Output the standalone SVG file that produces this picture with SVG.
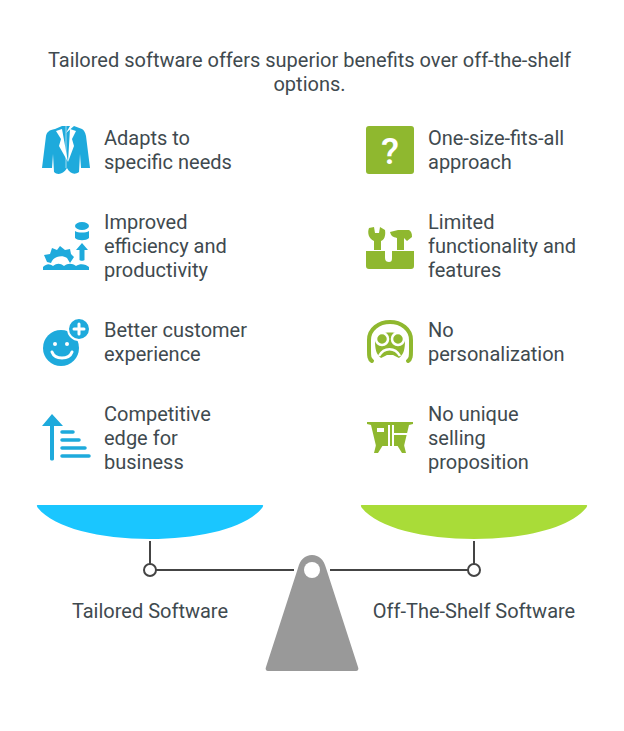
<svg xmlns="http://www.w3.org/2000/svg" width="624" height="731" viewBox="0 0 624 731">
<style>
text{font-family:Roboto,"Liberation Sans",sans-serif;font-size:20px;fill:#3f4a4f}
.b{fill:#1eaadc}.g{fill:#8fb82f}.w{fill:#fff}
.sb{stroke:#1eaadc;fill:none;stroke-linecap:round}
.sg{stroke:#8fb82f;fill:none;stroke-linecap:round}
.c{stroke:#444;stroke-width:2;fill:none}
</style>
<rect width="624" height="731" fill="#fff"/>
<g id="title"><text x="309.5" y="67" text-anchor="middle">Tailored software offers superior benefits over off-the-shelf</text><text x="309.5" y="91" text-anchor="middle">options.</text></g>

<g id="n1"><path class="b" d="M55 129L62 126H70L66 133L74 126L82 129C84 130 85 132 86 136L90 168L81 168L80 154L79 172C75 175 70 174 67 168C63 175 57 175 54 172L53 154L52 168L42 168L46 136C47 132 49 130 55 129Z"/><path class="w" d="M56 131L62 129L68 162L59 146L61 139ZM76 131L70 129L68 162L74 146L72 139Z"/><path d="M66 126V168" stroke="#fff" stroke-width="1" opacity=".6"/><text x="104" y="145">Adapts to</text><text x="104" y="169">specific needs</text></g>

<g id="n2"><ellipse class="b" cx="82" cy="226" rx="7" ry="4"/><path class="b" d="M75 231C78 233 86 233 89 231V238C86 241 78 241 75 238Z"/><path class="b" d="M82 243L88 250H84.5V260C84 261 80 261 79.5 260V250H76Z"/><path class="b" d="M44 255L50 254L52 248L57 250L60 246L65 250L70 249L71 254L74 257L70 263L67 258C64 256 60 256 57 257C54 258 52 260 51 263L47 262Z"/><path class="b" d="M43 267C47 263 50 264 53 266C57 263 60 263 64 266C68 263 72 263 76 266C80 263 86 264 89 267V270H43Z"/><text x="104" y="229">Improved</text><text x="104" y="253">efficiency and</text><text x="104" y="277">productivity</text></g>

<g id="n3"><circle class="b" cx="61" cy="348" r="18"/><circle class="b" cx="79" cy="329" r="11" stroke="#fff" stroke-width="2"/><path d="M79 324V334M74 329H84" stroke="#fff" stroke-width="3" stroke-linecap="round"/><circle class="w" cx="55" cy="344" r="2"/><circle class="w" cx="67" cy="344" r="2"/><path d="M52 352C55 360 69 360 72 352" stroke="#fff" stroke-width="3" fill="none" stroke-linecap="round"/><text x="104" y="337">Better customer</text><text x="104" y="361">experience</text></g>

<g id="n4"><path class="b" d="M52 414L63 426H54V459C54 461 50 461 50 459V426H42Z"/><path class="sb" stroke-width="3.5" d="M62 432H73M62 440H79M62 448H85M62 456H89"/><text x="104" y="421">Competitive</text><text x="104" y="445">edge for</text><text x="104" y="469">business</text></g>

<g id="n5"><rect class="g" x="366" y="126" width="48" height="48" rx="3"/><text x="390" y="164" text-anchor="middle" style="font-size:37px;font-weight:500;fill:#fff">?</text><text x="428" y="145">One-size-fits-all</text><text x="428" y="169">approach</text></g>

<g id="n6"><path class="g" d="M369 228L374 227L375 233L379 233L380 227L385 230C386 236 384 240 381 241V250H374V241C369 239 367 233 369 228Z"/><path class="g" d="M390 232L398 230H409C411 231 412 233 412 237L407 241L404 238V250H397V238C393 237 391 236 390 232Z"/><path class="g" d="M366 251H385V258C385 261 387 262 389 262C391 262 392 261 392 258V251H414V266C414 268 413 269 411 269H369C367 269 366 268 366 266Z"/><text x="428" y="229">Limited</text><text x="428" y="253">functionality and</text><text x="428" y="277">features</text></g>

<g id="n7"><path class="sg" stroke-width="4" d="M372 361C369 359 369 356 369 350V340C369 329 379 322 390 322C401 322 411 329 411 340V350C411 356 411 359 408 361"/><path class="g" d="M375 340C375 330 405 330 405 340C405 349 404 354 399 358L393 355H387L381 358C376 354 375 349 375 340Z"/><circle cx="382" cy="339" r="6" fill="#8fb82f" stroke="#fff" stroke-width="2.5"/><circle cx="398" cy="339" r="6" fill="#8fb82f" stroke="#fff" stroke-width="2.5"/><path d="M379 356C384 347 395 347 400 356" stroke="#fff" stroke-width="2.5" fill="none"/><text x="428" y="337">No</text><text x="428" y="361">personalization</text></g>

<g id="n8"><path class="g" d="M367 422H413V424L409 425L404 446H376L371 425L367 424Z"/><path class="g" d="M376 445H383L378 453H374ZM397 445H404L406 453H402Z"/><path class="w" d="M377 428H384V432H377ZM388 425H390V446H388ZM392 425H394V433H407V435H392ZM392 435H394V446H392Z"/><text x="428" y="421">No unique</text><text x="428" y="445">selling</text><text x="428" y="469">proposition</text></g>

<g id="connectors"><path class="c" d="M150 541V564M474 541V564M156 570H294M330 570H468"/><circle class="c" cx="150" cy="570" r="6" fill="#fff"/><circle class="c" cx="474" cy="570" r="6" fill="#fff"/></g>

<g id="pan-left"><path fill="#1ac6ff" d="M38 505H262C264 505 263 507 262 508C246 528 200 539 150 539C100 539 54 528 38 508C37 507 36 505 38 505Z"/><text x="150" y="618" text-anchor="middle">Tailored Software</text></g>
<g id="pan-right"><path fill="#a9dc38" d="M362 505H586C588 505 587 507 586 508C570 528 524 539 474 539C424 539 378 528 362 508C361 507 360 505 362 505Z"/><text x="474" y="618" text-anchor="middle">Off-The-Shelf Software</text></g>
<g id="fulcrum"><path fill="#999" d="M298 568C300 560 305 555 312 555C319 555 324 560 326 568L358 667C359 669 358 671 356 671H268C266 671 265 669 266 667Z"/><circle class="w" cx="312" cy="570" r="8"/></g>
</svg>
